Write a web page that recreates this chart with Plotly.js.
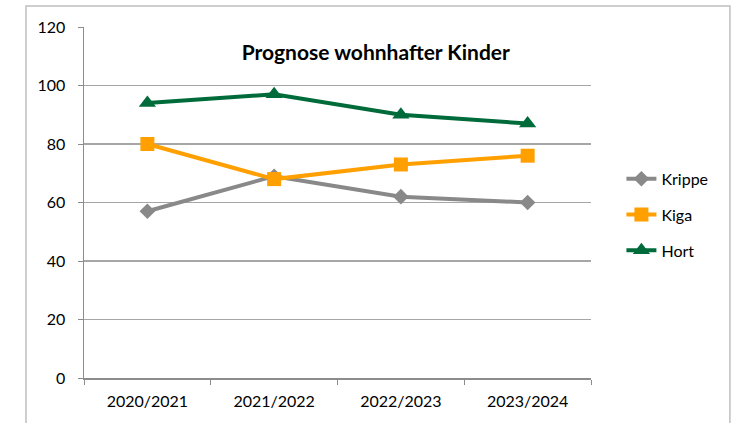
<!DOCTYPE html>
<html>
<head>
<meta charset="utf-8">
<script src="https://cdn.plot.ly/plotly-3.0.1.min.js"></script>
<style>
  html, body { margin: 0; padding: 0; background: #fff; }
  #plot { width: 734px; height: 423px; }
</style>
</head>
<body>
<div id="plot"></div>
<script>
// Schuljahre
const years = ['2020/2021', '2021/2022', '2022/2023', '2023/2024'];

// Prognose je Betreuungsart
const krippe = [57, 69, 62, 60];
const kiga = [80, 68, 73, 76];
const hort = [94, 97, 90, 87];

const yTicks = [0, 20, 40, 60, 80, 100, 120];

const font = 'Lato, "Open Sans", sans-serif';

const traceKrippe = {
    x: years, y: krippe,
    type: 'scatter', mode: 'lines+markers',
    name: 'Krippe', legendgroup: 'a',
    line: { color: '#898989', width: 4 },
    marker: { symbol: 'diamond', size: 12, color: '#898989' }
};

const traceKiga = {
    x: years, y: kiga,
    type: 'scatter', mode: 'lines+markers',
    name: 'Kiga', legendgroup: 'b',
    line: { color: '#FF9F00', width: 4 },
    marker: { symbol: 'square', size: 14, color: '#FF9F00' }
};

const traceHort = {
    x: years, y: hort,
    type: 'scatter', mode: 'lines+markers',
    name: 'Hort', legendgroup: 'c',
    line: { color: '#006B3A', width: 4 },
    marker: { symbol: 'triangle-up', size: 15, color: '#006B3A' }
};

const layout = {
    width: 734,
    height: 423,
    margin: { l: 84, r: 143, t: 27, b: 45 },
    paper_bgcolor: '#fff',
    plot_bgcolor: '#fff',
    font: { family: font, size: 16, color: '#000' },
    title: {
        text: '<b>Prognose wohnhafter Kinder</b>',
        font: { family: font, size: 21, color: '#000' },
        x: 0.512, xanchor: 'center',
        y: 0.875, yanchor: 'middle'
    },
    xaxis: {
        type: 'category',
        range: [-0.5, 3.5],
        showgrid: false,
        showline: true, linecolor: '#8C8C8C', linewidth: 1.5,
        ticks: 'outside', tickson: 'boundaries', ticklen: 5, tickcolor: '#8C8C8C',
        tickfont: { family: font, size: 16 },
        ticklabelstandoff: 8,
        fixedrange: true
    },
    yaxis: {
        range: [0, 120],
        tickvals: yTicks,
        showgrid: true, gridcolor: '#A6A6A6', gridwidth: 1.3,
        zeroline: false,
        showline: true, linecolor: '#8C8C8C', linewidth: 1.5,
        ticks: 'outside', ticklen: 5, tickcolor: '#8C8C8C',
        tickfont: { family: font, size: 16 },
        ticklabelstandoff: 9,
        fixedrange: true
    },
    legend: {
        x: 1.06, xanchor: 'left',
        y: 0.465, yanchor: 'middle',
        tracegroupgap: 12,
        font: { family: font, size: 16 },
        bgcolor: 'rgba(0,0,0,0)'
    },
    shapes: [{
        type: 'rect', xref: 'paper', yref: 'paper',
        x0: -0.1144, x1: 1.274, y0: -0.2, y1: 1.06,
        line: { color: '#BFBFBF', width: 1.5 }
    }]
};

Plotly.newPlot('plot', [traceKrippe, traceKiga, traceHort], layout, { displayModeBar: false, staticPlot: true });
</script>
</body>
</html>
